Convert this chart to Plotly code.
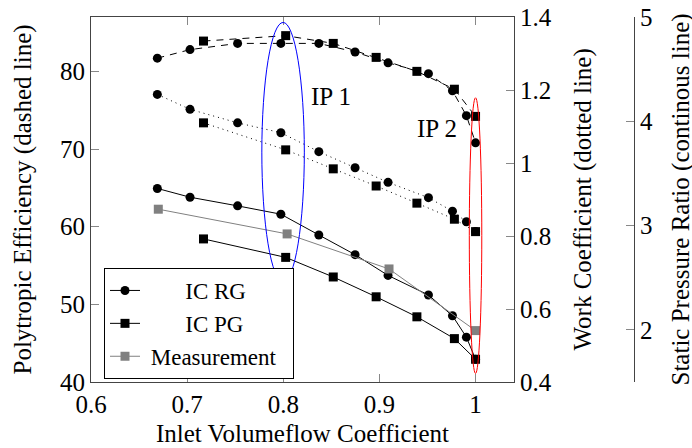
import plotly.graph_objects as go

# inlet volumeflow coefficient
phi_rg = [0.669, 0.703, 0.7525, 0.7975, 0.837, 0.8747, 0.909, 0.951, 0.976, 0.9905, 1.0]
phi_pg = [0.717, 0.8025, 0.852, 0.8966, 0.939, 0.978, 1.0]
phi_meas = [0.670, 0.804, 0.910, 1.0]

# polytropic efficiency (dashed)
eff_rg = [81.7, 82.8, 83.6, 83.6, 83.6, 82.5, 81.1, 79.7, 77.5, 74.3, 70.8]
eff_pg = [83.9, 84.6, 83.6, 81.8, 80.0, 77.7, 74.2]

# work coefficient (dotted)
work_rg = [1.188, 1.147, 1.110, 1.083, 1.031, 0.987, 0.947, 0.905, 0.868, 0.839, 0.812]
work_pg = [1.110, 1.036, 0.984, 0.937, 0.890, 0.846, 0.812]

# static pressure ratio (solid)
pr_rg = [3.356, 3.272, 3.189, 3.109, 2.91, 2.721, 2.522, 2.334, 2.135, 1.93, 1.718]
pr_pg = [2.872, 2.695, 2.507, 2.317, 2.125, 1.916, 1.718]
pr_meas = [3.157, 2.92, 2.584, 1.993]

FONT = "Liberation Serif, Times New Roman, serif"
FS = 25
AX = "#444"
TK = "#888"

W, H = 692, 448
L, T = 91, 17
PW = W - L           # paper width (right margin 0)
PH = 382 - 17        # plot height
B = H - T - PH
xdom_end = (514 - L) / PW
y3_pos = (634 - L) / PW


def px_x(px):
    return (px - L) / PW


def px_y(py):
    return (382 - py) / PH


fig = go.Figure()


def add(x, y, axis, symbol, dash, color="black", name=None, legend=False):
    fig.add_trace(
        go.Scatter(
            x=x,
            y=y,
            yaxis=axis,
            mode="lines+markers",
            name=name,
            showlegend=legend,
            line=dict(color=color, width=1, dash=dash),
            marker=dict(symbol=symbol, size=9, color=color),
        )
    )


nb = "\u00a0"
add(phi_rg, eff_rg, "y", "circle", "7px,6px")
add(phi_pg, eff_pg, "y", "square", "7px,6px")
add(phi_rg, work_rg, "y2", "circle", "1px,4px")
add(phi_pg, work_pg, "y2", "square", "1px,4px")
add(phi_rg, pr_rg, "y3", "circle", "solid", "black", nb * 7 + "IC RG", True)
add(phi_pg, pr_pg, "y3", "square", "solid", "black", nb * 7 + "IC PG", True)
add(phi_meas, pr_meas, "y3", "square", "solid", "#808080", nb + "Measurement" + nb * 2, True)

axis_common = dict(
    showgrid=False,
    zeroline=False,
    automargin=False,
    ticks="inside",
    ticklen=8,
    tickcolor=TK,
    tickwidth=1,
    showline=True,
    linecolor=AX,
    linewidth=1,
    tickfont=dict(family=FONT, size=FS, color="black"),
)

fig.update_layout(
    template="none",
    width=W,
    height=H,
    margin=dict(l=L, r=0, t=T, b=B, autoexpand=False),
    paper_bgcolor="white",
    plot_bgcolor="white",
    font=dict(family=FONT, size=FS, color="black"),
    xaxis=dict(domain=[0, xdom_end], range=[0.6, 1.04], tickvals=[0.6, 0.7, 0.8, 0.9, 1.0],
               mirror="ticks", **axis_common),
    yaxis=dict(range=[40, 87], tickvals=[40, 50, 60, 70, 80], **axis_common),
    yaxis2=dict(range=[0.4, 1.4], tickvals=[0.4, 0.6, 0.8, 1.0, 1.2, 1.4], overlaying="y",
                side="right", anchor="x", **axis_common),
    yaxis3=dict(range=[1.5, 5], tickvals=[2, 3, 4, 5], overlaying="y", side="right",
                anchor="free", position=y3_pos, **axis_common),
    legend=dict(
        x=px_x(104),
        y=px_y(268),
        xanchor="left",
        yanchor="top",
        bgcolor="white",
        bordercolor="black",
        borderwidth=1,
        font=dict(family=FONT, size=23, color="black"),
        tracegroupgap=0,
    ),
)

# ellipses marking the two operating points
fig.add_shape(type="circle", xref="x", yref="y", x0=0.7777, x1=0.8219, y0=52.9, y1=86.3,
              line=dict(color="blue", width=1))
fig.add_shape(type="circle", xref="x", yref="y", x0=0.9935, x1=1.0065, y0=41.1, y1=76.6,
              line=dict(color="red", width=1))

fig.add_annotation(x=0.8495, y=76.7, xref="x", yref="y", text="IP 1", showarrow=False,
                   font=dict(family=FONT, size=FS))
fig.add_annotation(x=0.9594, y=72.7, xref="x", yref="y", text="IP 2", showarrow=False,
                   font=dict(family=FONT, size=FS))

# axis titles
titles = [
    ("Inlet Volumeflow Coefficient", xdom_end / 2, px_y(433), 0),
    ("Polytropic Efficiency (dashed line)", px_x(22), 0.5, -90),
    ("Work Coefficient (dotted line)", px_x(582), 0.5, -90),
    ("Static Pressure Ratio (continous line)", px_x(680), 0.5, -90),
]
for text, x, y, angle in titles:
    fig.add_annotation(x=x, y=y, xref="paper", yref="paper", text=text, showarrow=False,
                       textangle=angle, xanchor="center", yanchor="middle",
                       font=dict(family=FONT, size=FS))

# drop the browser's default 8px body margin so the figure sits at the page corner
fig.write_html("out.html", config={"displayModeBar": False},
               post_script="document.body.style.margin = '0';")
